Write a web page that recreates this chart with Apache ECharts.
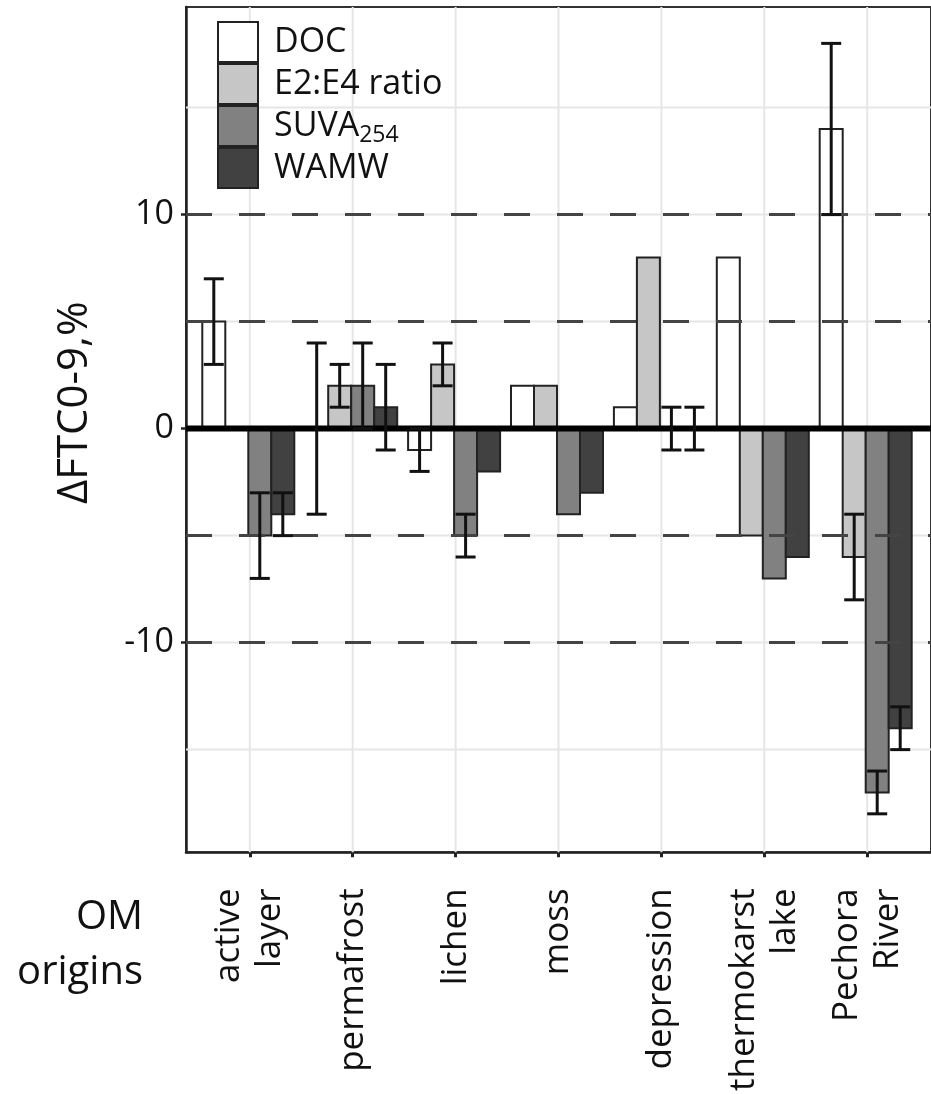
<!DOCTYPE html>
<html>
<head>
<meta charset="utf-8">
<script src="https://cdn.jsdelivr.net/npm/echarts@6/dist/echarts.min.js"></script>
<style>
html,body{margin:0;padding:0;background:#fff;}
#chart{width:931px;height:1094px;}
</style>
</head>
<body>
<div id="chart"></div>
<script>
// ---- data ----
const categories = ['active\nlayer', 'permafrost', 'lichen', 'moss', 'depression', 'thermokarst\nlake', 'Pechora\nRiver'];
const seriesNames = ['DOC', 'E2:E4 ratio', 'SUVA254', 'WAMW'];
const docValues  = [5, 0, -1, 2, 1, 8, 14];
const docErrors  = [2, 4, 1, 0, 0, 0, 4];
const e2e4Values = [null, 2, 3, 2, 8, -5, -6];
const e2e4Errors = [0, 1, 1, 0, 0, 0, 2];
const suvaValues = [-5, 2, -5, -4, 0, -7, -17];
const suvaErrors = [2, 2, 1, 0, 1, 0, 1];
const wamwValues = [-4, 1, -2, -3, 0, -6, -14];
const wamwErrors = [1, 2, 0, 0, 1, 0, 1];
const yTickLabels = [-10, 0, 10];
const lightGridValues = [-15, -10, -5, 5, 10, 15];
const dashedLineValues = [-10, -5, 5, 10];
const zeroLineValues = [0];

// ---- styling ----
const FONT = 'Open Sans';
const COLORS = ['#ffffff', '#c6c6c6', '#818181', '#414141'];
const BAR_W = 23;
const OFFSETS = [-36, -13, 10, 33];
const positions = categories.map((c, i) => i + 1);

const allValues = [docValues, e2e4Values, suvaValues, wamwValues];
const allErrors = [docErrors, e2e4Errors, suvaErrors, wamwErrors];

function barSeries(k) {
  return {
    name: seriesNames[k],
    type: 'custom',
    z: 3,
    itemStyle: { color: COLORS[k], borderColor: '#222', borderWidth: 2 },
    data: allValues[k].map((v, i) => [i + 1, v == null ? '-' : v, allErrors[k][i]]),
    renderItem: function (params, api) {
      const v = api.value(1);
      if (v == null || isNaN(v)) return null;
      const p0 = api.coord([api.value(0), 0]);
      const p1 = api.coord([api.value(0), v]);
      const cx = p0[0] + OFFSETS[k];
      return {
        type: 'rect',
        shape: { x: cx - BAR_W / 2, y: Math.min(p0[1], p1[1]), width: BAR_W, height: Math.abs(p1[1] - p0[1]) },
        style: { fill: COLORS[k], stroke: '#222', lineWidth: 2 }
      };
    }
  };
}

function errSeries(k) {
  return {
    type: 'custom',
    z: 6,
    silent: true,
    data: allValues[k].map((v, i) => [i + 1, v == null ? '-' : v, allErrors[k][i]]),
    renderItem: function (params, api) {
      const v = api.value(1), e = api.value(2);
      if (v == null || isNaN(v) || !e) return null;
      const pHi = api.coord([api.value(0), v + e]);
      const pLo = api.coord([api.value(0), v - e]);
      const cx = pHi[0] + OFFSETS[k];
      const st = { stroke: '#111', lineWidth: 3 };
      return {
        type: 'group',
        children: [
          { type: 'line', shape: { x1: cx, y1: pHi[1], x2: cx, y2: pLo[1] }, style: st },
          { type: 'line', shape: { x1: cx - 10, y1: pHi[1], x2: cx + 10, y2: pHi[1] }, style: st },
          { type: 'line', shape: { x1: cx - 10, y1: pLo[1], x2: cx + 10, y2: pLo[1] }, style: st }
        ]
      };
    }
  };
}

function hLineSeries(values, style, z) {
  return {
    type: 'custom', z: z, silent: true,
    data: values.map(v => [1, v]),
    renderItem: function (params, api) {
      const cs = params.coordSys;
      const y = api.coord([1, api.value(1)])[1];
      return { type: 'line', shape: { x1: cs.x, y1: y, x2: cs.x + cs.width, y2: y }, style: style };
    }
  };
}

function vLineSeries(values, style, z) {
  return {
    type: 'custom', z: z, silent: true,
    data: values.map(v => [v, 0]),
    renderItem: function (params, api) {
      const cs = params.coordSys;
      const x = api.coord([api.value(0), 0])[0];
      return { type: 'line', shape: { x1: x, y1: cs.y, x2: x, y2: cs.y + cs.height }, style: style };
    }
  };
}

const chart = echarts.init(document.getElementById('chart'), null, { renderer: 'canvas' });
const option = {
  backgroundColor: '#ffffff',
  animation: false,
  textStyle: { fontFamily: FONT },
  grid: { left: 186, top: 7, width: 758, height: 848, show: true, borderColor: '#333', borderWidth: 2, backgroundColor: 'transparent' },
  xAxis: {
    type: 'value', min: 0.38, max: 7.62,
    axisLine: { onZero: false, lineStyle: { color: '#222', width: 2.5 } },
    axisTick: { customValues: positions, length: 5, lineStyle: { color: '#222', width: 3 } },
    axisLabel: {
      customValues: positions,
      formatter: function (v) { return categories[Math.round(v) - 1]; },
      rotate: 90, margin: 36, fontSize: 35, lineHeight: 41, color: '#111', fontFamily: FONT
    },
    splitLine: { show: false }
  },
  yAxis: {
    type: 'value', min: -19.8, max: 19.7,
    axisLine: { onZero: false, lineStyle: { color: '#222', width: 2.5 } },
    axisTick: { customValues: yTickLabels, length: 5, lineStyle: { color: '#222', width: 2.5 } },
    axisLabel: { customValues: yTickLabels, fontSize: 34, margin: 12, color: '#111', fontFamily: FONT },
    splitLine: { show: false },
    name: 'ΔFTC0-9,%', nameLocation: 'middle', nameRotate: 90, nameGap: 90,
    nameTextStyle: { fontSize: 42, color: '#111', fontFamily: FONT, padding: [0, 0, 0, 54] }
  },
  legend: {
    data: seriesNames, orient: 'vertical', left: 217, top: 21, padding: 0, itemGap: 0,
    itemWidth: 40, itemHeight: 40, icon: 'rect', selectedMode: false,
    itemStyle: { borderColor: '#222', borderWidth: 2 },
    formatter: function (n) { return n === 'SUVA254' ? 'SUVA{sub|254}' : n; },
    textStyle: {
      fontSize: 34, color: '#111', lineHeight: 41, fontFamily: FONT, padding: [0, 0, 0, 11],
      rich: { sub: { fontSize: 23, lineHeight: 14, verticalAlign: 'bottom', color: '#111', fontFamily: FONT } }
    }
  },
  graphic: [{
    type: 'text', x: 143, y: 890,
    style: { text: 'OM\norigins', fontSize: 40, fontFamily: FONT, fill: '#111', align: 'right', verticalAlign: 'top', lineHeight: 55 }
  }],
  series: [
    hLineSeries(lightGridValues, { stroke: '#e6e6e6', lineWidth: 2 }, 1),
    vLineSeries(positions, { stroke: '#e6e6e6', lineWidth: 2 }, 1),
    barSeries(0), barSeries(1), barSeries(2), barSeries(3),
    hLineSeries(dashedLineValues, { stroke: '#444', lineWidth: 3, lineDash: [26, 27] }, 4),
    hLineSeries(zeroLineValues, { stroke: '#000', lineWidth: 6 }, 5),
    errSeries(0), errSeries(1), errSeries(2), errSeries(3)
  ]
};
chart.setOption(option);
</script>
</body>
</html>
